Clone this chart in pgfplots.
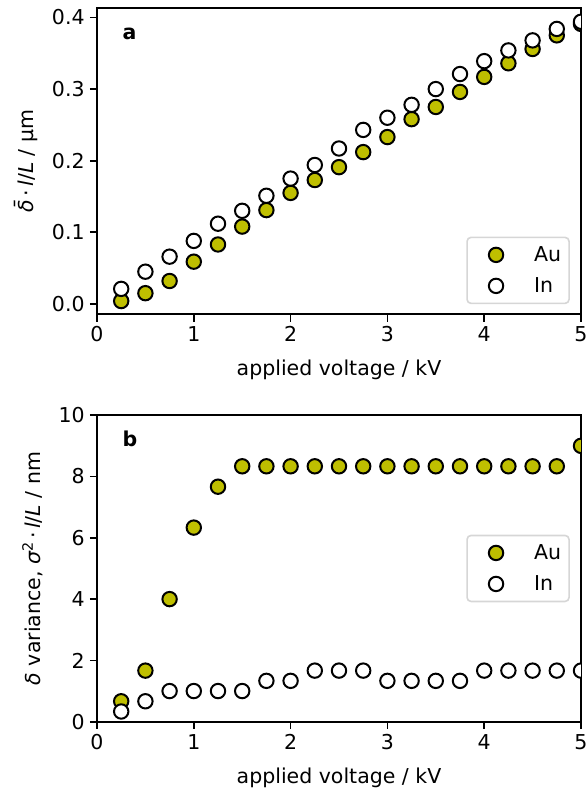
\documentclass[border=0pt]{standalone}
\usepackage{fontspec}
\setmainfont{DejaVu Sans}
\usepackage{pgfplots}
\pgfplotsset{compat=1.18}
\definecolor{auy}{rgb}{0.75,0.75,0}
\definecolor{legframe}{gray}{0.84}
\newcommand{\fs}{\fontsize{20.5}{24.6}\selectfont}

\pgfplotstableread{
x au in
0.25 0.004 0.021
0.50 0.015 0.045
0.75 0.032 0.066
1.00 0.059 0.088
1.25 0.083 0.112
1.50 0.108 0.130
1.75 0.131 0.151
2.00 0.155 0.175
2.25 0.173 0.194
2.50 0.191 0.217
2.75 0.212 0.243
3.00 0.233 0.260
3.25 0.258 0.278
3.50 0.275 0.300
3.75 0.296 0.321
4.00 0.317 0.339
4.25 0.336 0.354
4.50 0.356 0.368
4.75 0.375 0.384
5.00 0.391 0.394
}\tabA

\pgfplotstableread{
x au in
0.25 0.667 0.333
0.50 1.667 0.667
0.75 4.000 1.000
1.00 6.333 1.000
1.25 7.667 1.000
1.50 8.333 1.000
1.75 8.333 1.333
2.00 8.333 1.333
2.25 8.333 1.667
2.50 8.333 1.667
2.75 8.333 1.667
3.00 8.333 1.333
3.25 8.333 1.333
3.50 8.333 1.333
3.75 8.333 1.333
4.00 8.333 1.667
4.25 8.333 1.667
4.50 8.333 1.667
4.75 8.333 1.667
5.00 9.000 1.667
}\tabB

\pgfplotsset{
  myaxis/.style={
    width=484pt, height=306.5pt, scale only axis,
    xmin=0, xmax=5, xtick={0,1,2,3,4,5},
    tick align=outside, tick pos=left,
    major tick length=7.2pt,
    every tick/.style={black, line width=1.64pt},
    axis line style={line width=1.64pt},
    tick label style={font=\fs, inner sep=0pt},
    xticklabel style={yshift=-5pt},
    yticklabel style={xshift=-5pt},
    /pgf/number format/assume math mode=true,
    label style={font=\fs},
    clip marker paths=true,
    xlabel={applied voltage / kV},
    xlabel style={at={(axis description cs:0.5,-0.2)}, anchor=base, inner sep=0pt},
    legend style={font=\fs, draw=legframe, fill=white, line width=1.6pt,
      rounded corners=4pt, inner xsep=8pt, inner ysep=9pt,
      row sep=14pt, column sep=21pt,
      cells={anchor=west},
      nodes={inner sep=0pt, text height=15.5pt, text depth=1.5pt}},
  },
  mk/.style={only marks, mark=*, mark size=7.2pt,
    mark options={fill=#1, draw=black, line width=2pt},
    legend image code/.code={\path[draw=none, fill=none] (0pt,-8.5pt) rectangle (38pt,8.5pt);
      \draw[##1] plot coordinates {(21pt,0pt)};}},
}

\begin{document}
\begin{tikzpicture}
\begin{axis}[myaxis, at={(0pt,0pt)}, anchor=south west,
  ymin=-0.0145, ymax=0.4135, ytick={0,0.1,0.2,0.3,0.4},
  yticklabel style={/pgf/number format/.cd, fixed, fixed zerofill, precision=1},
  ylabel={{\itshape δ̄}\,·\,{\itshape l}/{\itshape L} / μm},
  ylabel style={at={(axis description cs:-0.1312,0.5)}, anchor=base, inner sep=0pt},
  legend style={at={(0.977,0.033)}, anchor=south east}]
\addplot[mk=auy] table[x=x, y=au] {\tabA};
\addplot[mk=white] table[x=x, y=in] {\tabA};
\legend{Au, In}
\node[anchor=base west, font=\fs\bfseries, inner sep=0pt] at (axis description cs:0.0523,0.898) {a};
\end{axis}
\begin{axis}[myaxis, at={(0pt,-407.4pt)}, anchor=south west,
  ymin=0, ymax=10, ytick={0,2,4,6,8,10},
  ylabel={{\itshape δ} variance, {\itshape σ}\textsuperscript{2}\,·\,{\itshape l}/{\itshape L} / nm},
  ylabel style={at={(axis description cs:-0.1167,0.5)}, anchor=base, inner sep=0pt},
  legend style={at={(0.977,0.5)}, anchor=east}]
\addplot[mk=auy] table[x=x, y=au] {\tabB};
\addplot[mk=white] table[x=x, y=in] {\tabB};
\legend{Au, In}
\node[anchor=base west, font=\fs\bfseries, inner sep=0pt] at (axis description cs:0.0523,0.897) {b};
\end{axis}
\pgfresetboundingbox
\useasboundingbox (-97pt,314.3pt) rectangle (490pt,-475.7pt);
\end{tikzpicture}
\end{document}
